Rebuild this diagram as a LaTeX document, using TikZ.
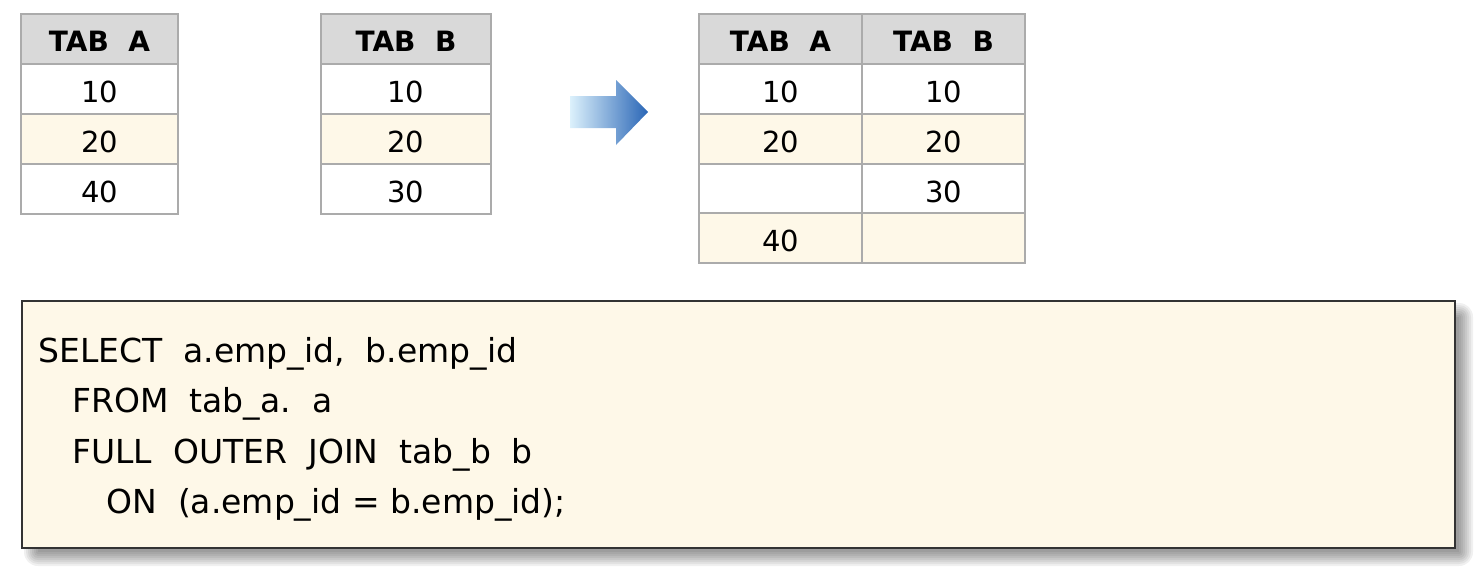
\documentclass[tikz,border=0pt]{standalone}
\usepackage{fontspec}
\setmainfont{DejaVu Sans}
\usetikzlibrary{shadows, positioning}

\definecolor{gridgray}{HTML}{ABABAB}
\definecolor{headgray}{HTML}{D9D9D9}
\definecolor{cream}{HTML}{FEF8E8}
\definecolor{lightblue}{HTML}{DCF1FC}
\definecolor{midblue}{HTML}{45B0EC}
\definecolor{darkblue}{HTML}{2A66B6}

\begin{document}
\begin{tikzpicture}[
    x=0.5pt, y=-0.5pt,
    cell/.style={draw=gridgray, line width=1pt, fill=white, minimum height=25pt, inner sep=0pt, text height=13pt, text depth=0pt, font=\fontsize{14.5}{17}\selectfont},
    head/.style={cell, fill=headgray, text height=12pt, font=\fontsize{14}{17}\selectfont\bfseries},
    odd/.style={cell, fill=cream},
    code/.style={anchor=base west, inner sep=0pt, font=\fontsize{16.5}{20}\selectfont}
]
    \useasboundingbox (0,0) rectangle (1484,574);

    % Table A
    \node (ah) [head, minimum width=78.5pt] at (99.5,39) {TAB\ \ A};
    \node (a1) [cell, minimum width=78.5pt] at (99.5,89) {10};
    \node (a2) [odd, minimum width=78.5pt] at (99.5,139) {20};
    \node (a3) [cell, minimum width=78.5pt] at (99.5,189) {40};

    % Table B
    \node (bh) [head, minimum width=85pt] at (406,39) {TAB\ \ B};
    \node (b1) [cell, minimum width=85pt] at (406,89) {10};
    \node (b2) [odd, minimum width=85pt] at (406,139) {20};
    \node (b3) [cell, minimum width=85pt] at (406,189) {30};

    % Arrow
    \shade[left color=lightblue, middle color=midblue, right color=darkblue]
        (570,96) -- (616,96) -- (616,80) -- (648,112) -- (616,145) -- (616,128) -- (570,128) -- cycle;

    % Result table
    \node (ra) [head, minimum width=81.5pt] at (780.5,39) {TAB\ \ A};
    \node (rb) [head, minimum width=81.5pt] at (943.5,39) {TAB\ \ B};
    \node (ra1) [cell, minimum width=81.5pt] at (780.5,89) {10};
    \node (rb1) [cell, minimum width=81.5pt] at (943.5,89) {10};
    \node (ra2) [odd, minimum width=81.5pt] at (780.5,139) {20};
    \node (rb2) [odd, minimum width=81.5pt] at (943.5,139) {20};
    \node (ra3) [cell, minimum width=81.5pt] at (780.5,189) {};
    \node (rb3) [cell, minimum width=81.5pt] at (943.5,189) {30};
    \node (ra4) [odd, minimum width=81.5pt] at (780.5,238) {40};
    \node (rb4) [odd, minimum width=81.5pt] at (943.5,238) {};

    % soft shadow under the SQL box
    \foreach \s in {0,2,...,14}
        \fill[black, opacity=0.06, rounded corners=\s*0.5pt]
            (32-\s+6,311-\s+6) rectangle (1465+\s-6,558+\s-6);

    % SQL box
    \node (box) [draw=black!80, line width=1pt, fill=cream, minimum width=716.5pt, minimum height=123.5pt] at (738.5,424.5) {};
    \node (l1) [code] at (38,362) {SELECT\ \ a.emp\_id,\ \ b.emp\_id};
    \node (l2) [code] at (72,412) {FROM\ \ tab\_a.\ \ a};
    \node (l3) [code] at (72,463) {FULL\ \ OUTER\ \ JOIN\ \ tab\_b\ \ b};
    \node (l4) [code] at (106,513) {ON\ \ (a.emp\_id = b.emp\_id);};
\end{tikzpicture}
\end{document}
